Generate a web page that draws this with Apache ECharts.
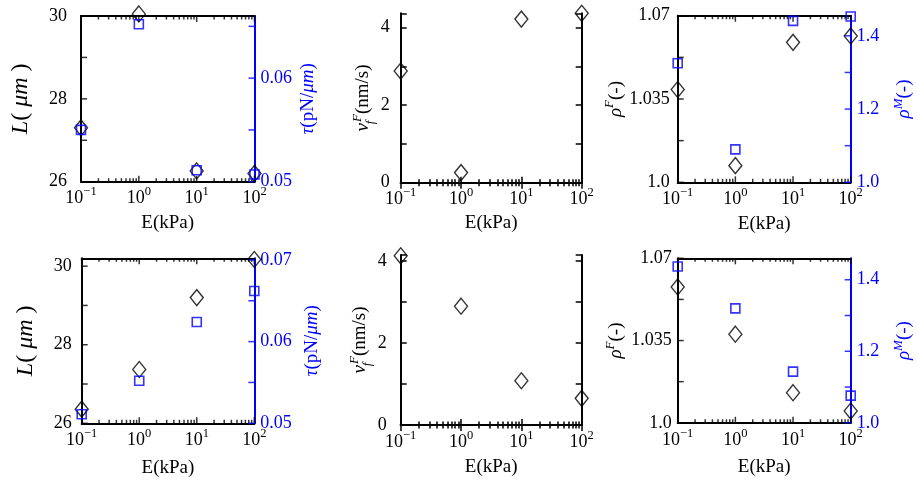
<!DOCTYPE html>
<html><head><meta charset="utf-8">
<script src="https://cdn.jsdelivr.net/npm/echarts@6/dist/echarts.min.js"></script>
<style>html,body{margin:0;padding:0;background:#fff}#c{width:917px;height:483px}</style>
</head><body><div id="c"></div>
<script>
// ---------- data ----------
const E_kPa = [0.1, 1, 10, 100];
const xMajorTicks = [0.1, 1, 10, 100];
const xMajorExponents = ['\u22121', '0', '1', '2'];
const xMinorTicks = [0.2,0.3,0.4,0.5,0.6,0.7,0.8,0.9,2,3,4,5,6,7,8,9,20,30,40,50,60,70,80,90];

const L_top    = [27.3, 30.05, 26.26, 26.2];
const tau_top  = [0.0550, 0.0652, 0.0511, 0.0507];
const vf_top   = [2.88, 0.26, 4.22, 4.37];
const rhoF_top = [1.039, 1.007, 1.0588, 1.0615];
const rhoM_top = [1.325, 1.09, 1.441, 1.453];

const L_bot    = [26.36, 27.37, 29.2, 30.17];
const tau_bot  = [0.0511, 0.0552, 0.0624, 0.0662];
const vf_bot   = [4.13, 2.9, 1.08, 0.65];
const rhoF_bot = [1.0578, 1.0377, 1.0128, 1.005];
const rhoM_bot = [1.437, 1.32, 1.143, 1.076];

const L_ticks = [26, 27, 28, 29, 30];
const L_labelVals = [26, 28, 30];
const L_labelText = ['26', '28', '30'];
const tauTop_ticks = [0.05, 0.055, 0.06, 0.065];
const tauTop_labelVals = [0.05, 0.06];
const tauTop_labelText = ['0.05', '0.06'];
const tauBot_ticks = [0.05, 0.055, 0.06, 0.065, 0.07];
const tauBot_labelVals = [0.05, 0.06, 0.07];
const tauBot_labelText = ['0.05', '0.06', '0.07'];
const vf_ticks = [0, 1, 2, 3, 4];
const vf_labelVals = [0, 2, 4];
const vf_labelText = ['0', '2', '4'];
const rhoF_ticks = [1.0, 1.0175, 1.035, 1.0525, 1.07];
const rhoF_labelVals = [1.0, 1.035, 1.07];
const rhoF_labelText = ['1.0', '1.035', '1.07'];
const rhoM_ticks = [1.0, 1.1, 1.2, 1.3, 1.4];
const rhoM_labelVals = [1.0, 1.2, 1.4];
const rhoM_labelText = ['1.0', '1.2', '1.4'];

// ---------- styling ----------
const FONT = 'Liberation Serif';
const BLUE = '#0000ff';
const BLACK = '#000000';

function nameRich(color, fs) {
  return {
    n:   {fontFamily: FONT, fontSize: fs, color, verticalAlign: 'bottom', padding: [0,0,4,0]},
    i:   {fontFamily: FONT, fontSize: fs, color, fontStyle: 'italic', verticalAlign: 'bottom', padding: [0,0,4,0]},
    sup: {fontFamily: FONT, fontSize: 13, color, fontStyle: 'italic', verticalAlign: 'bottom', padding: [0,0,13,0]},
    subz:{fontFamily: FONT, fontSize: 13, color, fontStyle: 'italic', verticalAlign: 'bottom', width: 1}
  };
}
const xRich = {
  b: {fontFamily: FONT, fontSize: 18, color: BLACK, verticalAlign: 'bottom'},
  s: {fontFamily: FONT, fontSize: 12.5, color: BLACK, verticalAlign: 'bottom', padding: [0,0,9,0]}
};
function labelFmt(vals, texts) {
  return function (v) {
    for (let i = 0; i < vals.length; i++) if (Math.abs(vals[i] - v) < 1e-9) return texts[i];
    return '';
  };
}
function xFmt(v) {
  for (let i = 0; i < xMajorTicks.length; i++)
    if (Math.abs(xMajorTicks[i] - v) / xMajorTicks[i] < 1e-6) return '{b|10}{s|' + xMajorExponents[i] + '}';
  return '';
}

const L_name = '{i|L}{n|( }{i|\u03bcm}{n| )}';
const tau_name = '{i|\u03c4}{n|(pN/}{i|\u03bcm}{n|)}';
const vf_name = '{i|v}{subz|f}{sup|F}{n|(nm/s)}';
const rhoF_name = '{i|\u03c1}{sup|F}{n|(-)}';
const rhoM_name = '{i|\u03c1}{sup|M}{n|(-)}';

const panels = [
  {grid: {left: 81, top: 16, width: 173.5, height: 165.7}, xNameGap: 32,
   left: {min: 26, max: 30, interval: 1, ticks: L_ticks, lv: L_labelVals, lt: L_labelText, name: L_name, fs: 24, gap: 44, margin: 14},
   right: {min: 0.05, max: 0.066, interval: 0.005, ticks: tauTop_ticks, lv: tauTop_labelVals, lt: tauTop_labelText, name: tau_name, fs: 19, gap: 44, margin: 6, color: BLUE},
   black: L_top, blue: tau_top},
  {grid: {left: 400.7, top: 13.3, width: 181, height: 169.4}, xNameGap: 31,
   left: {min: 0, max: 4.37, interval: 1, ticks: vf_ticks, lv: vf_labelVals, lt: vf_labelText, name: vf_name, fs: 19, gap: 21, margin: 11},
   right: null, black: vf_top, blue: null},
  {grid: {left: 677.7, top: 15.7, width: 173, height: 166.6}, xNameGap: 32,
   left: {min: 1.0, max: 1.07, interval: 0.0175, ticks: rhoF_ticks, lv: rhoF_labelVals, lt: rhoF_labelText, name: rhoF_name, fs: 19, gap: 48, margin: 8},
   right: {min: 1.0, max: 1.455, interval: 0.1, ticks: rhoM_ticks, lv: rhoM_labelVals, lt: rhoM_labelText, name: rhoM_name, fs: 19, gap: 41, margin: 6, color: BLUE},
   black: rhoF_top, blue: rhoM_top},
  {grid: {left: 81.7, top: 258.3, width: 172.6, height: 165}, xNameGap: 35,
   left: {min: 26, max: 30.2, interval: 1, ticks: L_ticks, lv: L_labelVals, lt: L_labelText, name: L_name, fs: 24, gap: 40, margin: 10},
   right: {min: 0.05, max: 0.0702, interval: 0.005, ticks: tauBot_ticks, lv: tauBot_labelVals, lt: tauBot_labelText, name: tau_name, fs: 19, gap: 48, margin: 6, color: BLUE},
   black: L_bot, blue: tau_bot},
  {grid: {left: 400.7, top: 255, width: 181, height: 170}, xNameGap: 33,
   left: {min: 0, max: 4.15, interval: 1, ticks: vf_ticks, lv: vf_labelVals, lt: vf_labelText, name: vf_name, fs: 19, gap: 21, margin: 14},
   right: null, black: vf_bot, blue: null},
  {grid: {left: 677.7, top: 258.3, width: 173, height: 164.5}, xNameGap: 35,
   left: {min: 1.0, max: 1.07, interval: 0.0175, ticks: rhoF_ticks, lv: rhoF_labelVals, lt: rhoF_labelText, name: rhoF_name, fs: 19, gap: 48, margin: 6},
   right: {min: 1.0, max: 1.46, interval: 0.1, ticks: rhoM_ticks, lv: rhoM_labelVals, lt: rhoM_labelText, name: rhoM_name, fs: 19, gap: 41, margin: 6, color: BLUE},
   black: rhoF_bot, blue: rhoM_bot}
];

const option = {animation: false, backgroundColor: '#fff', grid: [], xAxis: [], yAxis: [], series: []};
const tickStyle = c => ({color: c, width: 1.5});
const TW = 1.5, TL = 6, TM = 3.5;

// tick marks placed through the axes' own scales (used where axis ticks are not drawn)
function tickSeries(xAxisIndex, yAxisIndex, points, size, offset, color) {
  return {type: 'scatter', xAxisIndex, yAxisIndex, data: points, symbol: 'rect',
          symbolSize: size, symbolOffset: offset, itemStyle: {color}, silent: true,
          clip: false, z: 2, emphasis: {disabled: true}, tooltip: {show: false}};
}

panels.forEach((p) => {
  const twin = !!p.right;
  const g = option.grid.length;
  option.grid.push(Object.assign({containLabel: false}, p.grid));
  const xi = option.xAxis.length;
  const xb = {type: 'log', min: 0.1, max: 100, gridIndex: g,
              splitLine: {show: false},
              axisLine: {show: true, lineStyle: {color: BLACK, width: 2}},
              axisTick: {show: !twin, inside: true, length: TL, lineStyle: tickStyle(BLACK)},
              minorTick: {show: !twin, splitNumber: 9, length: TM, lineStyle: tickStyle(BLACK)}};
  option.xAxis.push(Object.assign({}, xb, {position: 'bottom',
    axisLabel: {show: true, formatter: xFmt, rich: xRich, margin: 4},
    name: '{n|E(kPa)}', nameLocation: 'middle', nameGap: p.xNameGap,
    nameTextStyle: {rich: {n: {fontFamily: FONT, fontSize: 19, color: BLACK}}}}));
  option.xAxis.push(Object.assign({}, xb, {position: 'top', axisLabel: {show: false}}));

  const yi = option.yAxis.length;
  const L = p.left;
  option.yAxis.push({type: 'value', gridIndex: g, position: 'left', min: L.min, max: L.max, interval: L.interval,
    splitLine: {show: false},
    axisLine: {show: true, lineStyle: {color: BLACK, width: 2}},
    axisTick: {show: !twin, inside: true, length: TL, lineStyle: tickStyle(BLACK)},
    axisLabel: {show: true, formatter: labelFmt(L.lv, L.lt), margin: L.margin,
                fontFamily: FONT, fontSize: 18, color: BLACK},
    name: L.name, nameLocation: 'middle', nameRotate: 90, nameGap: L.gap,
    nameTextStyle: {rich: nameRich(BLACK, L.fs)}});
  if (!twin) {
    option.yAxis.push({type: 'value', gridIndex: g, position: 'right', min: L.min, max: L.max, interval: L.interval,
      splitLine: {show: false},
      axisLine: {show: true, lineStyle: {color: BLACK, width: 2}},
      axisTick: {show: true, inside: true, length: TL, lineStyle: tickStyle(BLACK)},
      axisLabel: {show: false}});
  }
  option.series.push({type: 'scatter', xAxisIndex: xi, yAxisIndex: yi, clip: false, z: 5,
    data: E_kPa.map((x, i) => [x, p.black[i]]),
    symbol: 'diamond', symbolSize: [13, 16],
    itemStyle: {color: 'rgba(0,0,0,0)', borderColor: BLACK, borderWidth: 1.4},
    emphasis: {disabled: true}});

  if (twin) {
    // inward tick marks on bottom, top and left spines
    option.series.push(tickSeries(xi, yi, xMajorTicks.map(x => [x, L.min]), [TW, TL], [0, -TL / 2], BLACK));
    option.series.push(tickSeries(xi, yi, xMinorTicks.map(x => [x, L.min]), [TW, TM], [0, -TM / 2], BLACK));
    option.series.push(tickSeries(xi, yi, xMajorTicks.map(x => [x, L.max]), [TW, TL], [0, TL / 2], BLACK));
    option.series.push(tickSeries(xi, yi, xMinorTicks.map(x => [x, L.max]), [TW, TM], [0, TM / 2], BLACK));
    option.series.push(tickSeries(xi, yi, L.ticks.map(v => [0.1, v]), [TL, TW], [TL / 2, 0], BLACK));

    const R = p.right;
    const g2 = option.grid.length;
    option.grid.push(Object.assign({containLabel: false}, p.grid));
    const xi2 = option.xAxis.length;
    option.xAxis.push({type: 'log', min: 0.1, max: 100, gridIndex: g2, show: false});
    const yi2 = option.yAxis.length;
    option.yAxis.push({type: 'value', gridIndex: g2, position: 'right', min: R.min, max: R.max, interval: R.interval,
      splitLine: {show: false},
      axisLine: {show: true, lineStyle: {color: R.color, width: 2}},
      axisTick: {show: false},
      axisLabel: {show: true, formatter: labelFmt(R.lv, R.lt), margin: R.margin,
                  fontFamily: FONT, fontSize: 18, color: R.color},
      name: R.name, nameLocation: 'middle', nameRotate: 90, nameGap: R.gap,
      nameTextStyle: {rich: nameRich(R.color, R.fs)}});
    option.series.push(tickSeries(xi2, yi2, R.ticks.map(v => [100, v]), [TL, TW], [-TL / 2, 0], R.color));
    option.series.push({type: 'scatter', xAxisIndex: xi2, yAxisIndex: yi2, clip: false, z: 6,
      data: E_kPa.map((x, i) => [x, p.blue[i]]),
      symbol: 'rect', symbolSize: 9,
      itemStyle: {color: 'rgba(0,0,0,0)', borderColor: BLUE, borderWidth: 1.6},
      emphasis: {disabled: true}});
  }
});

const chart = echarts.init(document.getElementById('c'), null, {renderer: 'canvas'});
chart.setOption(option);
</script>
</body></html>
